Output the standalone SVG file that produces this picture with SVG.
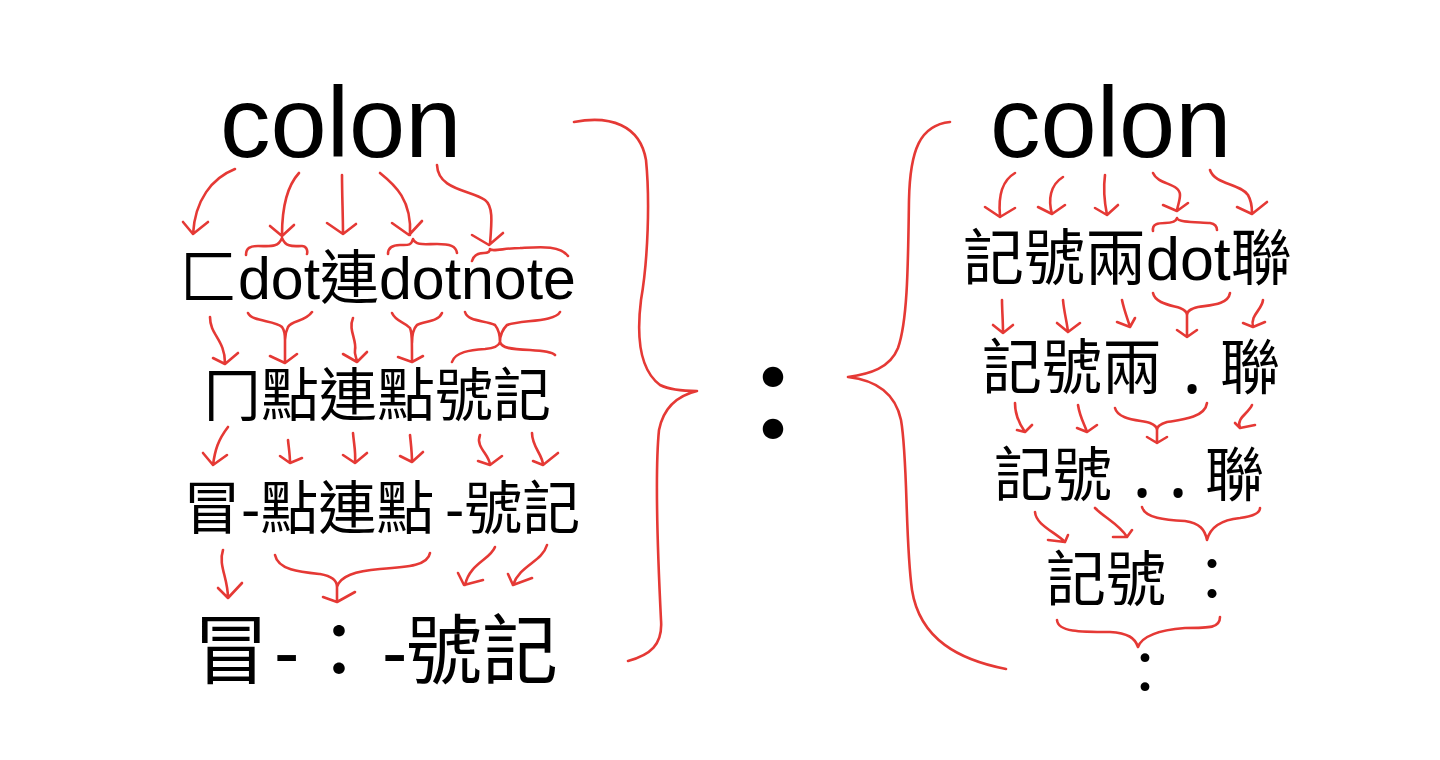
<svg xmlns="http://www.w3.org/2000/svg" width="1440" height="760" viewBox="0 0 1440 760">
<style>
.t{font-family:"Liberation Sans","Noto Sans CJK TC",sans-serif;fill:#000}
.p{font-family:"Noto Sans",sans-serif}
.r{fill:none;stroke:#e53935;stroke-width:2.6;stroke-linecap:round;stroke-linejoin:round}
</style>
<rect width="1440" height="760" fill="#fff"/>
<g id="left">
<g id="l-colon"><text class="t" x="220" y="157" font-size="101">colon</text></g>
<g id="l-row1"><text class="t" x="179" y="299" font-size="59">匚dot連dotnote</text></g>
<g id="l-row2"><text class="t" x="203" y="416" font-size="58">冂點連點號記</text></g>
<g id="l-row3"><text class="t" x="183" y="529" font-size="58">冒-點連點<tspan x="445">-號記</tspan></text></g>
<g id="l-row4"><text class="t" y="678" font-size="76"><tspan x="193">冒</tspan><tspan x="274">-</tspan><tspan x="301">：</tspan><tspan x="382">-</tspan><tspan x="406">號記</tspan></text></g>
</g>
<g id="center"><text class="t" x="773" y="443" font-size="108" text-anchor="middle" font-weight="bold">：</text></g>
<g id="right">
<g id="r-colon"><text class="t" x="990" y="157" font-size="101">colon</text></g>
<g id="r-row1"><text class="t" x="963" y="280" font-size="61">記號兩dot聯</text></g>
<g id="r-row2"><text class="t" font-size="60"><tspan x="982" y="389">記號兩</tspan><tspan class="p" x="1182" y="393" font-size="75">.</tspan><tspan x="1220" y="389">聯</tspan></text></g>
<g id="r-row3"><text class="t" font-size="59"><tspan x="994" y="496">記號</tspan><tspan class="p" x="1132" y="497" font-size="75">.</tspan><tspan class="p" x="1168" y="497" font-size="75">.</tspan><tspan x="1205" y="496">聯</tspan></text></g>
<g id="r-row4"><text class="t" y="601" font-size="60"><tspan x="1046">記號</tspan><tspan x="1182">：</tspan></text></g>
<g id="r-row5"><text class="t" x="1145" y="694" font-size="58" text-anchor="middle">：</text></g>
</g>
<g id="connectors">
<path class="r" d="M235,169 C212,178 195,200 193,234 M183,222 L193,234 L208,222"/>
<path class="r" d="M299,173 C288,185 282,205 282,235 M270,226 L282,236 L294,225"/>
<path class="r" d="M246,255 C246,248 250,246 258,246 C270,246 278,248 282,238 C286,248 294,246 302,246 C306,246 308,250 307,254"/>
<path class="r" d="M342,175 C342,195 343,215 343,234 M327,223 L343,234 L356,224"/>
<path class="r" d="M380,173 C395,185 412,200 410,235 M392,223 L409,235 L422,221"/>
<path class="r" d="M388,254 C388,248 392,245 400,245 C408,245 411,246 413,239 C416,246 425,244 437,244 C450,244 456,246 457,253"/>
<path class="r" d="M437,165 C438,190 470,190 485,200 C493,206 492,220 490,244 M472,235 L489,245 L503,233"/>
<path class="r" d="M472,261 C474,254 480,253 484,253 C488,253 490,252 490,249 C492,252 505,248 520,248 C540,247 560,245 568,256"/>
<path class="r" d="M210,317 C210,335 225,340 225,363 M213,358 L225,364 L238,353"/>
<path class="r" d="M248,313 C252,322 275,320 282,327 C285,331 285,335 285,340 L285,362 M312,312 C305,322 292,320 288,327 C286,331 285,335 285,340 M270,356 L285,363 L297,354"/>
<path class="r" d="M353,318 C348,330 357,340 355,350 C354,355 357,358 357,362 M343,354 L357,362 L367,352"/>
<path class="r" d="M392,313 C396,322 405,322 410,328 C412,333 412,340 412,362 M442,313 C438,322 425,321 417,325 C413,329 412,335 412,343 M398,357 L412,362 L423,356"/>
<path class="r" d="M465,312 C468,322 485,320 495,325 C499,330 500,336 500,342 M560,312 C555,322 520,320 507,325 C502,330 500,336 500,342 M452,362 C455,352 470,350 485,349 C495,348 499,346 500,342 C502,348 510,349 530,350 C545,351 552,352 555,355"/>
<path class="r" d="M228,427 C218,440 215,450 213,465 M203,453 L213,465 L227,455"/>
<path class="r" d="M288,440 C289,450 290,455 290,463 M280,456 L290,463 L302,458"/>
<path class="r" d="M353,433 C354,445 356,452 355,463 M343,455 L355,463 L367,453"/>
<path class="r" d="M410,435 C411,445 412,452 412,462 M400,456 L412,462 L423,452"/>
<path class="r" d="M480,435 C475,447 490,455 490,465 M478,461 L490,465 L502,456"/>
<path class="r" d="M532,433 C532,447 543,455 543,465 M533,461 L543,465 L558,453"/>
<path class="r" d="M223,550 C218,565 228,578 228,598 M218,588 L228,598 L242,583"/>
<path class="r" d="M275,555 C278,570 300,572 320,574 C332,576 337,580 337,587 L337,602 M430,553 C428,565 410,567 380,569 C355,571 340,576 337,587 M323,597 L337,602 L355,592"/>
<path class="r" d="M495,547 C490,560 470,563 465,585 M458,573 L464,585 L483,580"/>
<path class="r" d="M547,545 C542,562 520,565 513,585 M508,574 L513,585 L532,578"/>
<path class="r" d="M574,122 C610,115 640,125 646,160 C650,200 648,260 641,300 C636,340 640,370 660,385 C670,390 685,391 697,391 C680,395 664,405 659,430 C655,470 658,560 661,620 C663,645 650,655 628,661"/>
<path class="r" d="M950,122 C920,125 910,150 909,200 C908,260 908,320 898,348 C890,368 870,374 848,377 C875,380 895,392 901,420 C908,460 905,540 912,590 C920,640 960,660 1006,669"/>
<path class="r" d="M1015,173 C1003,180 998,195 1000,216 M985,207 L1000,217 L1015,208"/>
<path class="r" d="M1063,177 C1050,185 1048,200 1052,214 M1038,207 L1052,214 L1065,205"/>
<path class="r" d="M1105,175 C1103,190 1104,200 1107,215 M1095,208 L1107,215 L1118,205"/>
<path class="r" d="M1153,173 C1158,185 1180,183 1180,195 C1180,200 1178,205 1177,210 M1163,205 L1177,211 L1188,203"/>
<path class="r" d="M1153,231 C1152,224 1158,223 1165,223 C1172,223 1176,222 1177,218 C1178,223 1200,222 1210,223 C1215,224 1217,227 1217,230"/>
<path class="r" d="M1210,170 C1215,185 1240,183 1248,195 C1252,202 1252,208 1252,213 M1237,207 L1252,214 L1267,202"/>
<path class="r" d="M1002,300 C1002,310 1003,320 1003,333 M993,325 L1003,333 L1013,325"/>
<path class="r" d="M1063,300 C1064,312 1067,322 1068,332 M1057,323 L1068,332 L1080,323"/>
<path class="r" d="M1122,300 C1124,310 1128,320 1130,327 M1117,322 L1130,327 L1135,318"/>
<path class="r" d="M1153,293 C1155,303 1170,305 1180,308 C1185,310 1187,312 1187,315 L1187,337 M1230,293 C1228,305 1210,305 1198,307 C1190,309 1187,311 1187,315 M1177,330 L1187,337 L1197,330"/>
<path class="r" d="M1263,300 C1262,310 1250,315 1253,327 M1243,323 L1253,327 L1265,322"/>
<path class="r" d="M1015,403 C1015,415 1020,425 1025,432 M1017,430 L1025,432 L1032,425"/>
<path class="r" d="M1078,405 C1080,418 1085,425 1087,432 M1077,428 L1087,432 L1097,425"/>
<path class="r" d="M1115,408 C1118,420 1140,420 1150,423 C1155,425 1157,428 1157,430 L1157,443 M1207,403 C1205,418 1180,420 1167,422 C1160,424 1157,427 1157,430 M1147,437 L1157,443 L1167,437"/>
<path class="r" d="M1252,405 C1248,414 1236,418 1240,428 M1235,423 L1240,428 L1255,425"/>
<path class="r" d="M1035,512 C1036,525 1055,532 1065,542 M1048,540 L1065,542 L1068,535"/>
<path class="r" d="M1095,508 C1105,518 1120,525 1127,537 M1113,537 L1127,537 L1132,530"/>
<path class="r" d="M1142,507 C1145,518 1165,520 1185,521 C1200,523 1205,530 1207,540 C1210,528 1220,520 1240,518 C1255,516 1260,512 1260,508"/>
<path class="r" d="M1057,620 C1058,632 1080,632 1110,632 C1128,633 1135,638 1138,647 C1142,636 1160,630 1185,628 C1210,628 1220,628 1220,617"/>
</g>
</svg>
